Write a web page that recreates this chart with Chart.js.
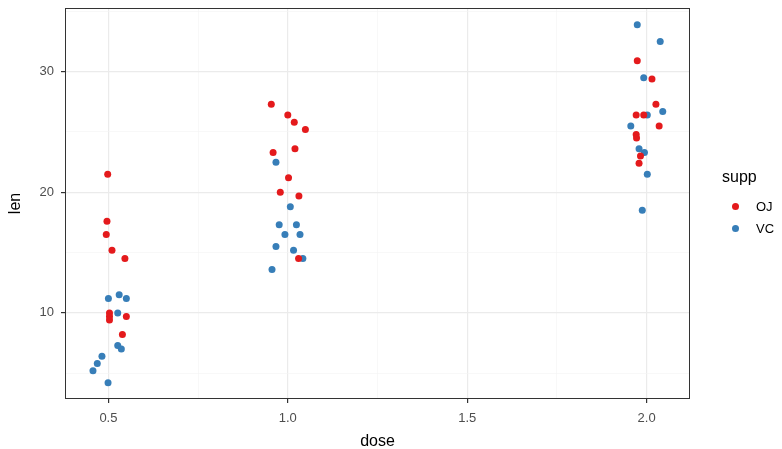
<!DOCTYPE html>
<html>
<head>
<meta charset="utf-8">
<script src="https://cdn.jsdelivr.net/npm/chart.js@4"></script>
<style>
  html, body { margin: 0; padding: 0; background: #fff; }
  #wrap { position: relative; width: 782px; height: 449px; font-family: "Liberation Sans", Arial, sans-serif; }
  #legend { position: absolute; left: 722px; top: 168px; color: #000; }
  #legend .title { font-size: 16px; margin-bottom: 9px; }
  #legend .item { display: flex; align-items: center; height: 22px; font-size: 13px; color: #000; }
  #legend .dot { width: 7px; height: 7px; border-radius: 50%; margin-left: 10px; margin-right: 17px; }
</style>
</head>
<body>
<div id="wrap">
  <canvas id="chart" width="782" height="449"></canvas>
  <div id="legend">
    <div class="title">supp</div>
    <div class="item"><span class="dot" style="background:#E41A1C"></span>OJ</div>
    <div class="item"><span class="dot" style="background:#377EB8"></span>VC</div>
  </div>
</div>
<script>
// jittered dose and len
const ojDose = [0.498, 0.496, 0.494, 0.51, 0.546, 0.55, 0.503, 0.503, 0.503, 0.539,
                0.954, 1.0, 1.018, 1.049, 0.959, 1.02, 1.002, 0.979, 1.031, 1.03,
                1.974, 2.015, 2.026, 1.971, 1.992, 2.035, 1.971, 1.972, 1.983, 1.979];
const ojLen = [21.5, 17.6, 16.5, 15.2, 14.5, 9.7, 10, 9.7, 9.4, 8.2,
               27.3, 26.4, 25.8, 25.2, 23.3, 23.6, 21.2, 20, 19.7, 14.5,
               30.9, 29.4, 27.3, 26.4, 26.4, 25.5, 24.8, 24.5, 23, 22.4];
const vcDose = [0.5, 0.53, 0.55, 0.526, 0.526, 0.536, 0.482, 0.469, 0.457, 0.499,
                0.967, 1.007, 0.976, 1.024, 0.992, 1.034, 0.967, 1.016, 1.042, 0.956,
                1.974, 2.038, 1.992, 2.045, 2.002, 1.956, 1.979, 1.994, 2.002, 1.988];
const vcLen = [11.2, 11.5, 11.2, 10, 7.3, 7.0, 6.4, 5.8, 5.2, 4.2,
               22.5, 18.8, 17.3, 17.3, 16.5, 16.5, 15.5, 15.2, 14.5, 13.6,
               33.9, 32.5, 29.5, 26.7, 26.4, 25.5, 23.6, 23.3, 21.5, 18.5];
const xTicks = [0.5, 1.0, 1.5, 2.0];
const yTicks = [10, 20, 30];

const pts = (xs, ys) => xs.map((x, i) => ({ x: x, y: ys[i] }));
const xAll = [0.25, 0.5, 0.75, 1.0, 1.25, 1.5, 1.75, 2.0];
const yAll = [5, 10, 15, 20, 25, 30, 35];
const isMajor = (list, v) => list.some((t) => Math.abs(t - v) < 1e-9);

const tickFont = { family: "'Liberation Sans', Arial, sans-serif", size: 13 };
const titleFont = { family: "'Liberation Sans', Arial, sans-serif", size: 16 };

const borderPlugin = {
  id: "panelBorder",
  afterDraw(chart) {
    const a = chart.chartArea;
    const ctx = chart.ctx;
    ctx.save();
    ctx.strokeStyle = "#333333";
    ctx.lineWidth = 1;
    ctx.strokeRect(a.left + 0.5, a.top + 0.5, a.right - a.left - 1, a.bottom - a.top - 1);
    ctx.restore();
  },
};

new Chart(document.getElementById("chart").getContext("2d"), {
  type: "scatter",
  data: {
    datasets: [
      { label: "OJ", data: pts(ojDose, ojLen), backgroundColor: "#E41A1C", borderWidth: 0, pointRadius: 3.5 },
      { label: "VC", data: pts(vcDose, vcLen), backgroundColor: "#377EB8", borderWidth: 0, pointRadius: 3.5 },
    ],
  },
  options: {
    responsive: false,
    animation: false,
    layout: { padding: { left: 0, top: 8, right: 92, bottom: 0 } },
    plugins: { legend: { display: false }, tooltip: { enabled: false } },
    scales: {
      x: {
        type: "linear",
        min: 0.379,
        max: 2.121,
        afterBuildTicks: (s) => { s.ticks = xAll.filter((v) => v >= s.min && v <= s.max).map((v) => ({ value: v })); },
        afterFit: (s) => { s.height = 50; s.paddingLeft = 0; s.paddingRight = 0; },
        ticks: {
          color: "#4D4D4D",
          font: tickFont,
          padding: 8,
          maxRotation: 0,
          callback: (v) => (isMajor(xTicks, v) ? v.toFixed(1) : ""),
        },
        grid: {
          color: (c) => (isMajor(xTicks, c.tick.value) ? "#EBEBEB" : "#F4F4F4"),
          lineWidth: (c) => (isMajor(xTicks, c.tick.value) ? 1.2 : 0.6),
          tickColor: (c) => (isMajor(xTicks, c.tick.value) ? "#333333" : "rgba(0,0,0,0)"),
          tickLength: 4,
          drawTicks: true,
        },
        border: { display: false },
        title: { display: true, text: "dose", color: "#000", font: titleFont, padding: { top: 6, bottom: -2 } },
      },
      y: {
        type: "linear",
        min: 2.86,
        max: 35.28,
        afterBuildTicks: (s) => { s.ticks = yAll.filter((v) => v >= s.min && v <= s.max).map((v) => ({ value: v })); },
        afterFit: (s) => { s.width = 65; s.paddingTop = 0; s.paddingBottom = 0; },
        ticks: {
          color: "#4D4D4D",
          font: tickFont,
          padding: 7,
          callback: (v) => (isMajor(yTicks, v) ? String(v) : ""),
        },
        grid: {
          color: (c) => (isMajor(yTicks, c.tick.value) ? "#EBEBEB" : "#F4F4F4"),
          lineWidth: (c) => (isMajor(yTicks, c.tick.value) ? 1.2 : 0.6),
          tickColor: (c) => (isMajor(yTicks, c.tick.value) ? "#333333" : "rgba(0,0,0,0)"),
          tickLength: 4,
          drawTicks: true,
        },
        border: { display: false },
        title: { display: true, text: "len", color: "#000", font: titleFont, padding: { top: 6, bottom: 0 } },
      },
    },
  },
  plugins: [borderPlugin],
});
</script>
</body>
</html>
